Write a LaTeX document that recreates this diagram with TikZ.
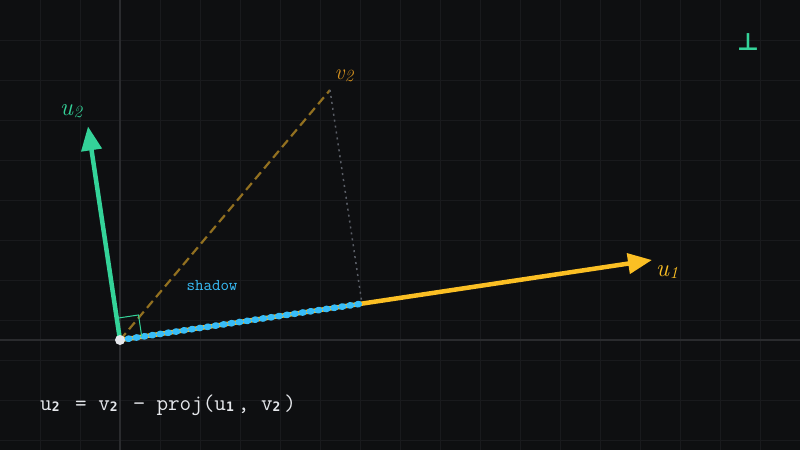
\documentclass[tikz,border=0pt]{standalone}
\usepackage{fontspec}
\newfontfamily\dvmono{DejaVu Sans Mono}
\newfontfamily\dvsans{DejaVu Sans}
\usetikzlibrary{arrows.meta,calc}
\definecolor{bg}{HTML}{0E0F11}
\definecolor{gridc}{HTML}{191A1D}
\definecolor{axisc}{HTML}{2A2B2E}
\definecolor{amber}{HTML}{FBBF24}
\definecolor{emer}{HTML}{34D399}
\definecolor{sky}{HTML}{38BDF8}
\definecolor{vlab}{HTML}{D4911F}
\definecolor{vdash}{HTML}{927020}
\definecolor{dotg}{HTML}{5A5E66}
\definecolor{txt}{HTML}{E5E7EB}
\newcommand{\sbd}[1]{\makebox[0.525em][l]{\raisebox{-1.5pt}{\dvmono\fontsize{13}{13}\selectfont\bfseries #1}}}
\newcommand{\vlabel}[2]{{\itshape #1\kern0.5pt{\fontsize{17}{17}\selectfont\raisebox{-1.5pt}{#2}}}}
\tikzset{
  vec/.style={line width=4.5pt,line cap=round,-{Triangle[length=24pt,width=20pt]}},
  lbl/.style={font=\fontsize{25}{25}\selectfont,inner sep=0pt},
}
\begin{document}
\begin{tikzpicture}[x=1pt,y=-1pt]
\fill[bg] (0,0) rectangle (800,450);
\useasboundingbox (0,0) rectangle (800,450);
% grid
\foreach \x in {40,80,...,760} \draw[gridc,line width=1pt] (\x,0) -- (\x,450);
\foreach \y in {40,80,...,440} \draw[gridc,line width=1pt] (0,\y) -- (800,\y);
\draw[axisc,line width=1.2pt] (120,0) -- (120,450);
\draw[axisc,line width=1.2pt] (0,340) -- (800,340);
% points
\coordinate (O) at (120,340);
\coordinate (U1) at (652,260);
\coordinate (U2) at (88,126.4);
\coordinate (V2) at (330,90);
\coordinate (P) at (362,303.6);
% v2 dashed
\draw[vdash,line width=2.2pt,dash pattern=on 9pt off 5pt] (O) -- (V2);
% dotted perpendicular
\draw[dotg,line width=1.5pt,dash pattern=on 2pt off 4pt] (V2) -- (P);
% u1
\draw[amber,vec] (O) -- (U1);
% shadow
\draw[sky,line width=6.5pt,line cap=round,dash pattern=on 1.5pt off 6.5pt] (O) -- (P);
% u2
\draw[emer,vec] (O) -- (U2);
% right angle marker
\draw[emer,line width=1pt] ($(O)!22pt!(U2)$) -- ($(O)!22pt!(U2) + (O)!22pt!(U1) - (O)$) -- ($(O)!22pt!(U1)$);
% origin dot
\node[circle,fill=txt,minimum size=10pt,inner sep=0pt] (odot) at (O) {};
% labels
\node[lbl,text=amber] (l1) at (667,272) {\vlabel{u}{1}};
\node[lbl,text=emer] (l2) at (71,111) {\vlabel{u}{2}};
\node[lbl,text=vlab,font=\fontsize{22}{22}\selectfont] (l3) at (344,76) {\vlabel{v}{2}};
\node[text=sky,font=\ttfamily\fontsize{16.5}{16.5}\selectfont,inner sep=0pt] (sh) at (212,286) {shadow};
\node[text=emer,font=\dvsans\bfseries\fontsize{24}{24}\selectfont,inner sep=0pt] (perp) at (748,42) {⊥};
\node[text=txt,anchor=base west,inner sep=0pt,font=\ttfamily\fontsize{22.5}{22.5}\selectfont] (eq) at (40,410)
  {u\sbd{2} = v\sbd{2} − proj(u\sbd{1}, v\sbd{2})};
\end{tikzpicture}
\end{document}
